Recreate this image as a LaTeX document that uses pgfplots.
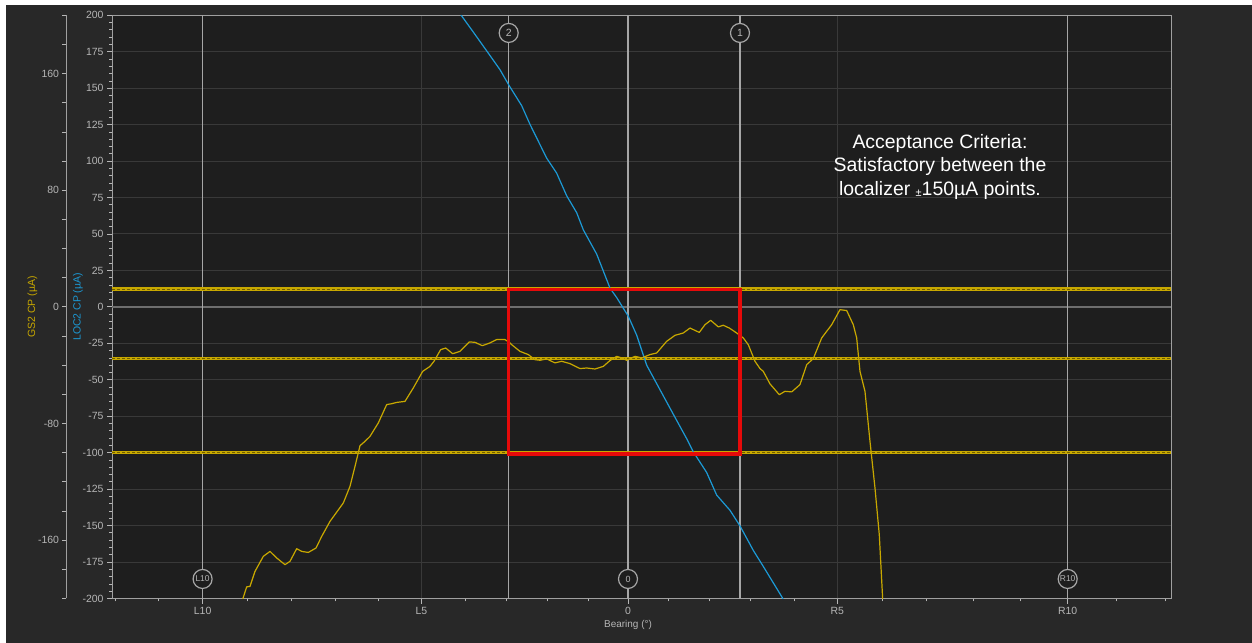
\documentclass[border=0pt]{standalone}
\usepackage{fontspec}
\setmainfont{Liberation Sans}
\usepackage{pgfplots}
\pgfplotsset{compat=1.18}
\definecolor{outerbg}{HTML}{282828}
\definecolor{plotbg}{HTML}{1E1E1E}
\definecolor{gridc}{HTML}{393939}
\definecolor{zeroc}{HTML}{6E6E6E}
\definecolor{markc}{HTML}{A6A6A6}
\definecolor{tickc}{HTML}{B6B6B6}
\definecolor{axisc}{HTML}{A0A0A0}
\definecolor{gold}{HTML}{C8A800}
\definecolor{golddark}{HTML}{6E5E00}
\definecolor{locblue}{HTML}{1C9AD6}
\definecolor{rectred}{HTML}{E60A0A}
\begin{document}
\begin{tikzpicture}
\path[use as bounding box, fill=white] (0,0) rectangle (1252bp,643bp);
\fill[outerbg] (6bp,0) rectangle (1252bp,638bp);

% GS2 axis (left, yellow label)
\begin{axis}[
  at={(66bp,44.5bp)}, anchor=south west,
  scale only axis, width=100bp, height=583.2bp,
  xmin=0, xmax=1, ymin=-200, ymax=200,
  axis y line*=left, axis x line=none,
  axis line style={axisc, line width=0.8bp, -},
  y axis line style={-},
  ytick={-160,-80,0,80,160},
  minor ytick={-200,-180,...,200},
  tick align=outside,
  major tick length=3.5bp, minor tick length=3.5bp,
  every tick/.style={tickc, line width=0.8bp},
  yticklabel style={font=\fontsize{10.5}{12}\selectfont, text=tickc},
  /pgf/number format/assume math mode=true,
  ylabel={GS2 CP (µA)},
  every axis y label/.style={at={(axis description cs:-0.335,0.5)}, rotate=90, anchor=center, font=\fontsize{10.5}{12}\selectfont, text=gold},
]
\addplot[draw=none] coordinates {(0.5,0)};
\end{axis}

% Main axis (LOC2)
\begin{axis}[
  at={(112bp,44.5bp)}, anchor=south west,
  scale only axis, width=1059bp, height=583.2bp,
  xmin=-516, xmax=543, ymin=-200, ymax=200,
  axis background/.style={fill=plotbg},
  axis line style={axisc, line width=0.8bp},
  xtick={-425.4,-206.5,0,209.3,439.7},
  xticklabels={L10,L5,0,R5,R10},
  minor xtick={-512.7,-469.4,-380.7,-336.6,-292.6,-249.4,-162.5,-121.6,-80.3,-40,40.4,81.5,122.6,166,254.3,298.4,345.2,392.4,488.8,537.2},
  ytick={-200,-175,...,200},
  minor y tick num=4,
  xtick pos=left, ytick pos=left,
  tick align=outside,
  major tick length=5bp, minor tick length=2.8bp,
  every tick/.style={tickc, line width=0.8bp},
  xmajorgrids, ymajorgrids,
  major grid style={gridc, line width=1bp},
  tick label style={font=\fontsize{10.5}{12}\selectfont, text=tickc},
  /pgf/number format/assume math mode=true,
  xlabel={Bearing (°)},
  every axis x label/.style={at={(axis description cs:0.4873,0)}, anchor=center, yshift=-26bp, font=\fontsize{10}{12}\selectfont, text=tickc},
  ylabel={LOC2 CP (µA)},
  every axis y label/.style={at={(axis description cs:-0.0321,0.5)}, rotate=90, anchor=center, font=\fontsize{10.5}{12}\selectfont, text=locblue},
]
% zero line
\addplot[zeroc, line width=1.3bp] coordinates {(-516,0) (543,0)};
% marker lines
\addplot[markc, line width=1.4bp] coordinates {(-425.4,-200) (-425.4,200)};
\addplot[markc, line width=1.4bp] coordinates {(-119.3,-200) (-119.3,200)};
\addplot[markc, line width=1.4bp] coordinates {(0,-200) (0,200)};
\addplot[markc, line width=1.4bp] coordinates {(112,-200) (112,200)};
\addplot[markc, line width=1.4bp] coordinates {(439.7,-200) (439.7,200)};
% yellow reference lines
\addplot[gold, line width=3.6bp] coordinates {(-516,12.3) (543,12.3)};
\addplot[golddark, line width=0.8bp, dash pattern=on 3bp off 2bp] coordinates {(-516,12.3) (543,12.3)};
\addplot[gold, line width=3.6bp] coordinates {(-516,-35.3) (543,-35.3)};
\addplot[golddark, line width=0.8bp, dash pattern=on 3bp off 2bp] coordinates {(-516,-35.3) (543,-35.3)};
\addplot[gold, line width=3.6bp] coordinates {(-516,-99.9) (543,-99.9)};
\addplot[golddark, line width=0.8bp, dash pattern=on 3bp off 2bp] coordinates {(-516,-99.9) (543,-99.9)};
% LOC2 CP curve
\addplot[locblue, line width=1.2bp, line join=round] coordinates {
(-167.3,200.5) (-154.7,188.5) (-141.3,175.6) (-128,162.7) (-119.3,152.3)
(-106.3,138) (-98,125.2) (-81.3,102) (-71.3,91.7) (-61.3,76.2) (-51.3,64.6)
(-44.7,52.9) (-31.3,36.2) (-18,12.9) (-11.3,6.4) (0.3,-6.4) (8.7,-19.4)
(18.7,-40) (32,-56.8) (45.3,-73.6) (58.7,-90.4) (65.3,-99.4) (78.7,-113.6)
(88.7,-129.1) (102,-139.5) (112,-150.2) (125.3,-167) (135.3,-178) (155.3,-200.5)
};
% GS2 CP curve
\addplot[gold, line width=1.2bp, line join=round] coordinates {
(-385.3,-200.5) (-381.3,-192) (-378,-191.7) (-373,-181.4) (-364.7,-171.1)
(-358,-167.7) (-351.3,-172.2) (-343,-176.8) (-338,-174.5) (-331.3,-165.8)
(-326.3,-167.7) (-319.7,-168.4) (-312,-165.4) (-306.3,-157.4) (-298,-147.1)
(-284.7,-134.5) (-278,-123.1) (-273,-109.4) (-268,-95.2) (-263,-92.2)
(-258,-88.8) (-249.7,-79.6) (-241.3,-67) (-236.3,-66.4) (-231.3,-65.5)
(-223,-64.8) (-214.7,-55.6) (-205.3,-44.2) (-198,-40.8) (-194,-37.3)
(-187.3,-29.3) (-182.3,-28.2) (-175.3,-32.1) (-168,-30.5) (-158.7,-24)
(-153,-24.3) (-145.7,-26.6) (-138,-24.7) (-131.3,-22.4) (-123,-22.4)
(-118,-24.7) (-116.3,-25.9) (-108,-30.5) (-99.7,-32.7) (-93,-36.2)
(-88,-36.6) (-81.3,-35.7) (-73,-38.4) (-66.3,-37.3) (-58,-38.9)
(-48,-42.3) (-41.3,-41.9) (-33,-42.6) (-24.7,-40.8) (-18,-36.8)
(-11.3,-33.9) (-6.3,-35) (-1.3,-36.6) (7,-33.9) (13.7,-35) (22,-32.7)
(28.7,-31.6) (38.7,-23.6) (47,-19.5) (55.3,-17.9) (62,-14.5) (71.3,-17.5)
(77,-12.2) (82.7,-9.2) (90.3,-13.7) (95.3,-12.6) (101.3,-14.5) (108.7,-17.9)
(115.3,-21.3) (120.3,-25.9) (127,-37.3) (132,-42.3) (135.3,-44.2)
(142,-52.8) (151.3,-60.2) (157,-57.9) (163.7,-58.3) (172,-53.3)
(178.7,-39.6) (185.3,-35.5) (193.7,-21.3) (203.7,-12.2) (212,-1.9)
(218.7,-2.5) (225.3,-12.2) (228.7,-21.3) (232,-44.2) (237,-57.9)
(242,-92.2) (247,-124.2) (251.3,-156.2) (254.7,-200.5)
};
% red acceptance box
\addplot[rectred, line width=3.5bp, line cap=rect, line join=miter] coordinates {
(-119.7,12.1) (112,12.1) (112,-100.9) (-119.7,-100.9) (-119.7,12.1)
};
% marker circles
\tikzset{mk/.style={circle, draw=markc, fill=plotbg, line width=1.2bp, minimum size=19bp, inner sep=0pt, text=tickc}}
\node[mk, font=\fontsize{10.5}{10.5}\selectfont] at (axis cs:-119.3,187.9) {2};
\node[mk, font=\fontsize{10.5}{10.5}\selectfont] at (axis cs:112,187.9) {1};
\node[mk, font=\fontsize{8.5}{8.5}\selectfont] at (axis cs:-425.4,-186.6) {L10};
\node[mk, font=\fontsize{9}{9}\selectfont] at (axis cs:0,-186.6) {0};
\node[mk, font=\fontsize{8.5}{8.5}\selectfont] at (axis cs:439.7,-186.6) {R10};
% annotation
\node[align=center, text=white, font=\fontsize{19.5}{23.5}\selectfont] at (axis cs:312,96)
  {Acceptance Criteria:\\Satisfactory between the\\localizer {\fontsize{11}{11}\selectfont\raisebox{-1.5bp}{±}}150µA points.};
\end{axis}
\end{tikzpicture}
\end{document}
